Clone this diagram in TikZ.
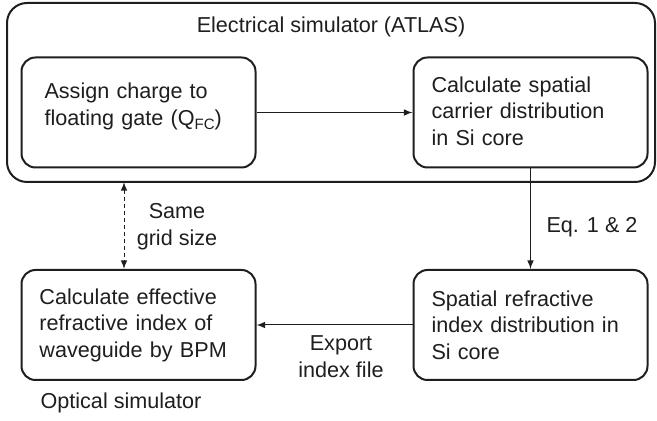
\documentclass[tikz,border=0pt]{standalone}
\usepackage{fontspec}
\setmainfont{Liberation Sans}
\usepackage{tikz}
\usetikzlibrary{arrows}
\definecolor{ink}{HTML}{1E1E1E}

\tikzset{
  stepbox/.style={draw=ink, line width=1pt, rounded corners=7pt, minimum width=117pt, minimum height=55pt, text width=99pt, align=left, inner sep=2pt},
  simbox/.style={draw=ink, line width=1pt, rounded corners=10pt, minimum width=324pt, minimum height=89.5pt, inner sep=0pt},
  flow/.style={draw=ink, line width=0.5pt, -latex},
  lbl/.style={align=center, text=ink}
}

\begin{document}
\begin{tikzpicture}[x=0.5pt, y=0.5pt, font=\fontsize{10.8}{13.25}\selectfont, text=ink]
    \useasboundingbox (0,0) rectangle (657,421);

    % Electrical simulator frame
    \node[simbox] (elec) at (331,328.5) {};
    \node[lbl] (electitle) at (331,394) {Electrical simulator (ATLAS)};

    % Steps
    \node[stepbox, text width=94pt] (assign) at (138.5,308.5) {Assign charge to\\floating gate (Q\raisebox{-2pt}{\fontsize{7.5}{8}\selectfont FC})\\[-5pt]\mbox{}};
    \node[stepbox] (carrier) at (530.5,308.5) {\mbox{}\\[-7pt]Calculate spatial\\carrier distribution\\in Si core};
    \node[stepbox] (refidx) at (530.5,96) {Spatial refractive\\index distribution in\\Si core};
    \node[stepbox] (effidx) at (138.5,96) {Calculate effective\\refractive index of\\waveguide by BPM};

    % Connectors
    \draw[flow] (assign.east) -- (carrier.west);
    \draw[flow] (carrier.south) -- (refidx.north);
    \draw[flow] (refidx.west) -- (effidx.east);
    \coordinate (gridtop) at (124,239);
    \draw[flow, latex-latex, dash pattern=on 2pt off 1.5pt] (gridtop) -- (gridtop |- effidx.north);

    % Labels
    \node[lbl] (gridlbl) at (177,194.5) {Same\\grid size};
    \node[lbl] (eqlbl) at (592,194) {Eq. 1 \& 2};
    \node[lbl] (exportlbl) at (341,64.5) {Export\\index file};
    \node[lbl] (optlbl) at (121,18) {Optical simulator};
\end{tikzpicture}
\end{document}
